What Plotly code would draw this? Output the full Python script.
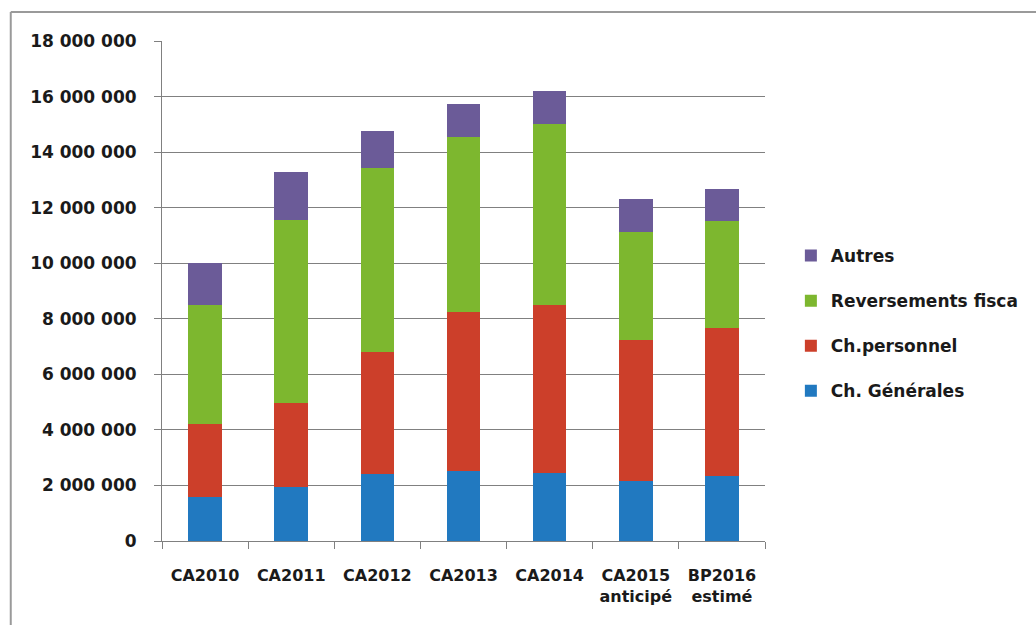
import plotly.graph_objects as go

# Budget de fonctionnement par nature (en euros)
categories = ["CA2010", "CA2011", "CA2012", "CA2013", "CA2014",
              "CA2015<br>anticipé", "BP2016<br>estimé"]

ch_generales = [1600000, 1960000, 2410000, 2530000, 2440000, 2170000, 2350000]
ch_personnel = [2610000, 3000000, 4410000, 5700000, 6060000, 5070000, 5330000]
reversements = [4290000, 6600000, 6620000, 6300000, 6500000, 3870000, 3840000]
autres = [1500000, 1730000, 1320000, 1200000, 1210000, 1200000, 1150000]

series_names = ["Ch. Générales", "Ch.personnel", "Reversements fisca", "Autres"]
series_values = [ch_generales, ch_personnel, reversements, autres]
series_colors = ["#2179c0", "#cc3f2a", "#7db72f", "#6b5b98"]

y_tickvals = [0, 2000000, 4000000, 6000000, 8000000, 10000000,
              12000000, 14000000, 16000000, 18000000]
y_ticktext = ["0", "2 000 000", "4 000 000", "6 000 000", "8 000 000",
              "10 000 000", "12 000 000", "14 000 000", "16 000 000",
              "18 000 000"]

FONT = "DejaVu Sans"
W, H = 1036, 625
ML, MR, MT, MB = 162, 268, 41, 84

fig = go.Figure()
n = len(series_names)
for i, (name, vals, color) in enumerate(zip(series_names, series_values, series_colors)):
    fig.add_trace(go.Bar(
        x=categories, y=vals, name=name, legendgroup=name,
        legendrank=n - i,  # top of the stack listed first
        marker=dict(color=color, line=dict(width=0)),
    ))

plot_w = W - ML - MR
plot_h = H - MT - MB

def px_x(px):
    return (px - ML) / plot_w

def px_y(py):
    return (H - MB - py) / plot_h

# outer frame (left and top edges)
frame = dict(color="#9a9a9a", width=2)
fig.add_shape(type="line", xref="paper", yref="paper",
              x0=px_x(10), x1=px_x(10), y0=px_y(12), y1=px_y(H + 5), line=frame)
fig.add_shape(type="line", xref="paper", yref="paper",
              x0=px_x(10), x1=px_x(W + 5), y0=px_y(12), y1=px_y(12), line=frame)

fig.update_layout(
    width=W, height=H,
    margin=dict(l=ML, r=MR, t=MT, b=MB, pad=0),
    barmode="stack", bargap=0.61,
    paper_bgcolor="white", plot_bgcolor="white",
    font=dict(family=FONT, size=16, color="#1a1a1a"),
    showlegend=True,
    legend=dict(
        x=px_x(794), xanchor="left", y=px_y(238), yanchor="top",
        traceorder="grouped", tracegroupgap=20,
        font=dict(family=FONT, size=17, color="#1a1a1a", weight="bold"),
        bgcolor="rgba(0,0,0,0)", borderwidth=0,
    ),
    xaxis=dict(
        type="category", showgrid=False, tickson="boundaries",
        ticks="outside", ticklen=7, tickcolor="#808080",
        showline=True, linecolor="#808080", linewidth=1,
        ticklabelstandoff=20,
        tickfont=dict(family=FONT, size=16, color="#1a1a1a", weight="bold"),
    ),
    yaxis=dict(
        range=[0, 18000000], tickvals=y_tickvals, ticktext=y_ticktext,
        showgrid=True, gridcolor="#808080", gridwidth=1,
        ticks="outside", ticklen=7, tickcolor="#808080",
        showline=True, linecolor="#808080", linewidth=1,
        zeroline=False, ticklabelstandoff=14,
        tickfont=dict(family=FONT, size=17, color="#1a1a1a", weight="bold"),
    ),
)

fig.write_html("out.html")
